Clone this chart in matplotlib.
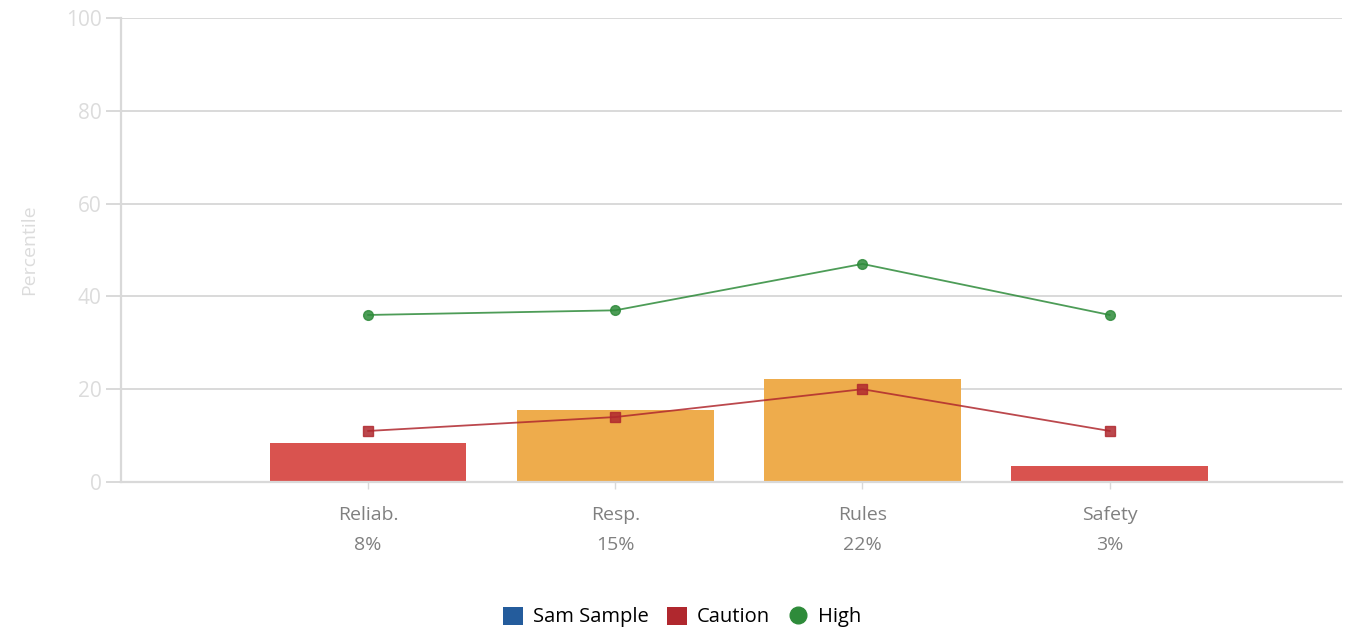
import matplotlib.pyplot as plt
from matplotlib.lines import Line2D
from matplotlib.patches import Patch

categories = ["Reliab.", "Resp.", "Rules", "Safety"]
sample_pct = [8.4, 15.5, 22.3, 3.4]
pct_labels = ["8%", "15%", "22%", "3%"]
caution = [11, 14, 20, 11]
high = [36, 37, 47, 36]
bar_colors = ["#d9534f", "#eeac4c", "#eeac4c", "#d9534f"]
y_ticks = [0, 20, 40, 60, 80, 100]

plt.rcParams["font.family"] = ["Open Sans", "DejaVu Sans"]

fig = plt.figure(figsize=(13.45, 6.32), dpi=100)
ax = fig.add_axes([121 / 1345, 1 - 482 / 632, (1342 - 121) / 1345, (482 - 18) / 632])

x = list(range(1, len(categories) + 1))
ax.bar(x, sample_pct, width=0.795, color=bar_colors, zorder=2)
ax.plot(x, caution, color="#b0282e", lw=1.3, alpha=0.85, marker="s", ms=7,
        markerfacecolor="#b0282e", markeredgecolor="#b0282e", zorder=3)
ax.plot(x, high, color="#2e8b3a", lw=1.3, alpha=0.85, marker="o", ms=7,
        markerfacecolor="#2e8b3a", markeredgecolor="#2e8b3a", zorder=3)

ax.set_xlim(0, 4.94)
ax.set_ylim(0, 100)
ax.set_yticks(y_ticks)
ax.grid(axis="y", color="#d9d9d9", lw=1.4, zorder=0)
ax.set_xticks(x)
ax.set_xticklabels([f"{c}\n{p}" for c, p in zip(categories, pct_labels)],
                   color="#808080", fontsize=14, linespacing=1.85)
ax.tick_params(axis="x", length=5, width=1, color="#d9d9d9", pad=12)
ax.tick_params(axis="y", length=11, width=1.4, color="#d9d9d9",
               labelcolor="#dcdcdc", labelsize=15, pad=3)

for side in ["top", "right"]:
    ax.spines[side].set_visible(False)
ax.spines["left"].set_color("#d9d9d9")
ax.spines["left"].set_linewidth(1.6)
ax.spines["bottom"].set_color("#d9d9d9")
ax.spines["bottom"].set_linewidth(1.6)

ax.set_ylabel("Percentile", color="#dcdcdc", fontsize=14, labelpad=20)

handles = [
    Patch(facecolor="#245c9c", label="Sam Sample"),
    Patch(facecolor="#b0282e", label="Caution"),
    Line2D([], [], marker="o", color="none", markerfacecolor="#2e8b3a",
           markeredgecolor="#2e8b3a", ms=12, label="High"),
]
fig.legend(handles=handles, loc="center", bbox_to_anchor=(682 / 1345, 1 - 617 / 632),
           ncol=3, frameon=False, fontsize=14.5, handlelength=1.0, handleheight=1.0,
           handletextpad=0.5, columnspacing=0.9)

fig.savefig("out.png", dpi=100)
